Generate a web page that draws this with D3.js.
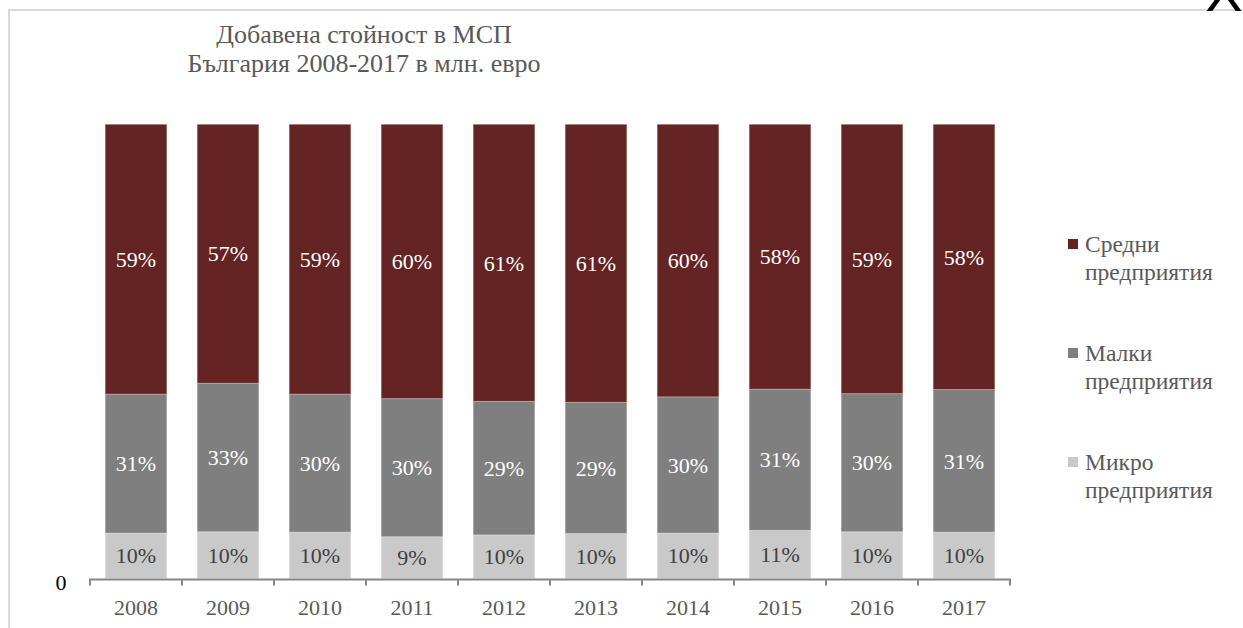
<!DOCTYPE html>
<html><head><meta charset="utf-8">
<script src="https://cdn.jsdelivr.net/npm/d3@7"></script>
<style>body{margin:0;background:#fff}svg{display:block}</style>
</head><body>
<svg id="c" width="1243" height="628"></svg>
<script>
const years = ["2008","2009","2010","2011","2012","2013","2014","2015","2016","2017"];
const micro  = [10.0, 10.3, 10.2, 9.2, 9.6, 9.9, 10.0, 10.6, 10.3, 10.2];
const small  = [30.6, 32.7, 30.4, 30.4, 29.4, 28.9, 30.0, 31.1, 30.4, 31.4];
const medium = [59.4, 57.0, 59.4, 60.4, 61.0, 61.2, 60.0, 58.3, 59.3, 58.4];
const seriesNames = ["Микро предприятия","Малки предприятия","Средни предприятия"];
const legendLines = [["Средни","предприятия"],["Малки","предприятия"],["Микро","предприятия"]];
const titleLines = ["Добавена стойност в МСП","България 2008-2017 в млн. евро"];
const colors = ["#c9c9c9","#7f7f7f","#632423"];
const labelColors = ["#404040","#ffffff","#ffffff"];

const svg = d3.select("#c");
const serif = "'Liberation Serif','Times New Roman',serif";

// frame
svg.append("line").attr("x1",8).attr("x2",1243).attr("y1",10).attr("y2",10).attr("stroke","#d9d9d9").attr("stroke-width",2);
svg.append("line").attr("x1",9).attr("x2",9).attr("y1",10).attr("y2",628).attr("stroke","#d9d9d9").attr("stroke-width",2);
svg.append("text").attr("x",1224).attr("y",11).attr("text-anchor","middle")
  .attr("font-family","'Liberation Sans',Arial,sans-serif").attr("font-size",56).attr("fill","#000").text("X");

// title
svg.append("text").attr("font-family",serif).attr("font-size",26).attr("fill","#595959").attr("text-anchor","middle")
  .selectAll("tspan").data(titleLines).join("tspan")
  .attr("x",364).attr("y",(d,i)=>43+i*29).text(d=>d);

const table = years.map((y,i)=>({year:y, micro:micro[i], small:small[i], medium:medium[i]}));
const keys = ["micro","small","medium"];
const stack = d3.stack().keys(keys)(table);

const x = d3.scaleBand().domain(years).range([90,1010]).paddingInner(0.33).paddingOuter(0.165);
const y = d3.scaleLinear().domain([0,100]).range([578.5,124.3]);

const g = svg.append("g");
stack.forEach((layer,k)=>{
  const lg = g.append("g");
  lg.selectAll("rect").data(layer).join("rect")
    .attr("x",d=>x(d.data.year)).attr("width",x.bandwidth())
    .attr("y",d=>y(d[1])).attr("height",d=>y(d[0])-y(d[1]))
    .attr("fill",colors[k]).attr("stroke","rgba(255,255,255,0.25)").attr("stroke-width",1);
  lg.selectAll("text").data(layer).join("text")
    .attr("x",d=>x(d.data.year)+x.bandwidth()/2)
    .attr("y",d=>(y(d[0])+y(d[1]))/2)
    .attr("dy","0.35em").attr("text-anchor","middle")
    .attr("font-family",serif).attr("font-size",22).attr("fill",labelColors[k])
    .text(d=>d3.format(".0%")((d[1]-d[0])/100));
});

// x axis
const step = x.step();
const tickXs = years.map(yr=>x(yr)-step*0.33/2).concat([1010]);
svg.append("line").attr("x1",89).attr("x2",1011).attr("y1",579.5).attr("y2",579.5).attr("stroke","#868686").attr("stroke-width",2);
svg.selectAll(".tk").data(tickXs).join("line").attr("class","tk")
  .attr("x1",d=>d).attr("x2",d=>d).attr("y1",579).attr("y2",585.5).attr("stroke","#868686").attr("stroke-width",2);
svg.selectAll(".xl").data(years).join("text").attr("class","xl")
  .attr("x",d=>x(d)+x.bandwidth()/2).attr("y",615).attr("text-anchor","middle")
  .attr("font-family",serif).attr("font-size",22).attr("fill","#595959").text(d=>d);
svg.append("text").attr("x",61).attr("y",590).attr("text-anchor","middle")
  .attr("font-family",serif).attr("font-size",22).attr("fill","#000").text(y.ticks(1)[0]);

// legend
const leg = svg.append("g");
const legColors = [colors[2],colors[1],colors[0]];
legendLines.forEach((lines,i)=>{
  const by = 252 + i*109;
  leg.append("rect").attr("x",1068).attr("y",by-13).attr("width",10).attr("height",10).attr("fill",legColors[i]);
  leg.append("text").attr("font-family",serif).attr("font-size",23.5).attr("fill","#595959")
    .selectAll("tspan").data(lines).join("tspan").attr("x",1085).attr("y",(d,j)=>by+j*28).text(d=>d);
});
</script>
</body></html>
